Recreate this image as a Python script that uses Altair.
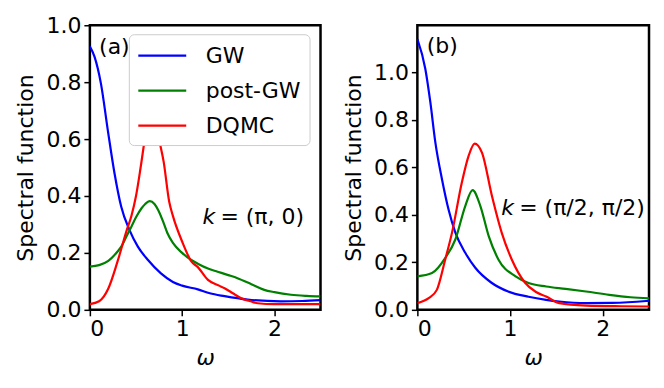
import altair as alt
import pandas as pd

FONT = "DejaVu Sans"
FS = 22
SERIES = ["GW", "post-GW", "DQMC"]
COLORS = ["#0000ff", "#008000", "#ff0000"]

# ---------------- panel (a): k = (pi, 0) ----------------
a_gw_w = [0, 0.05, 0.12, 0.195, 0.267, 0.34, 0.43, 0.52, 0.63, 0.77, 0.9, 1.0, 1.17, 1.3, 1.46, 1.71, 2.07, 2.3, 2.5]
a_gw_A = [0.925, 0.89, 0.795, 0.63, 0.48, 0.362, 0.28, 0.222, 0.175, 0.128, 0.098, 0.085, 0.072, 0.058, 0.048, 0.036, 0.03, 0.031, 0.034]

a_pg_w = [0, 0.1, 0.2, 0.3, 0.34, 0.4, 0.45, 0.5, 0.56, 0.6, 0.65, 0.7, 0.74, 0.8, 0.84, 0.9, 1.0, 1.1, 1.17, 1.28, 1.385, 1.5, 1.6, 1.75, 1.89, 2.0, 2.18, 2.35, 2.5]
a_pg_A = [0.152, 0.157, 0.172, 0.205, 0.222, 0.26, 0.292, 0.325, 0.357, 0.372, 0.382, 0.372, 0.351, 0.305, 0.27, 0.235, 0.2, 0.175, 0.162, 0.145, 0.134, 0.122, 0.111, 0.09, 0.07, 0.062, 0.053, 0.049, 0.047]

a_dq_w = [0, 0.1, 0.2, 0.3, 0.4, 0.45, 0.5, 0.55, 0.6, 0.65, 0.7, 0.75, 0.8, 0.86, 0.9, 1.0, 1.1, 1.17, 1.28, 1.4, 1.46, 1.55, 1.64, 1.75, 1.82, 2.0, 2.5]
a_dq_A = [0.02, 0.03, 0.075, 0.17, 0.28, 0.33, 0.4, 0.5, 0.61, 0.7, 0.69, 0.6, 0.52, 0.38, 0.33, 0.24, 0.17, 0.15, 0.105, 0.085, 0.076, 0.058, 0.041, 0.029, 0.023, 0.02, 0.02]

# ---------------- panel (b): k = (pi/2, pi/2) ----------------
b_gw_w = [0, 0.086, 0.14, 0.194, 0.266, 0.338, 0.41, 0.517, 0.625, 0.8, 0.98, 1.2, 1.39, 1.53, 1.82, 2.1, 2.47, 2.5]
b_gw_A = [1.14, 1.014, 0.874, 0.705, 0.549, 0.42, 0.325, 0.24, 0.177, 0.114, 0.077, 0.055, 0.042, 0.035, 0.028, 0.029, 0.037, 0.038]

b_pg_w = [0, 0.158, 0.3, 0.41, 0.517, 0.596, 0.68, 0.77, 0.876, 1.06, 1.2, 1.39, 1.6, 1.82, 2.07, 2.3, 2.5]
b_pg_A = [0.141, 0.155, 0.218, 0.296, 0.437, 0.504, 0.437, 0.31, 0.211, 0.141, 0.113, 0.098, 0.088, 0.077, 0.063, 0.053, 0.048]

b_dq_w = [0, 0.122, 0.21, 0.3, 0.374, 0.48, 0.553, 0.618, 0.697, 0.805, 0.91, 1.02, 1.16, 1.28, 1.39, 1.53, 1.82, 2.2, 2.5]
b_dq_A = [0.028, 0.049, 0.084, 0.211, 0.325, 0.536, 0.648, 0.70, 0.662, 0.479, 0.325, 0.211, 0.115, 0.075, 0.056, 0.028, 0.018, 0.015, 0.014]

panel_labels = ["(a)", "(b)"]
k_rest = ["= (π, 0)", "= (π/2, π/2)"]


def long_df(series_list):
    rows = []
    for name, ws, As in series_list:
        for w, A in zip(ws, As):
            rows.append({"omega": w, "A": A, "series": name})
    return pd.DataFrame(rows)


df_a = long_df([("GW", a_gw_w, a_gw_A), ("post-GW", a_pg_w, a_pg_A), ("DQMC", a_dq_w, a_dq_A)])
df_b = long_df([("GW", b_gw_w, b_gw_A), ("post-GW", b_pg_w, b_pg_A), ("DQMC", b_dq_w, b_dq_A)])


def panel(df, ymax, label, label_y, k_w, k_y, rest, width, show_legend):
    x = alt.X("omega:Q", title="ω",
              scale=alt.Scale(domain=[0, 2.5], nice=False, zero=False),
              axis=alt.Axis(values=[0, 1, 2], format="d", titleFontStyle="italic"))
    y = alt.Y("A:Q", title="Spectral function",
              scale=alt.Scale(domain=[0, ymax], nice=False),
              axis=alt.Axis(values=[0, 0.2, 0.4, 0.6, 0.8, 1.0], format=".1f"))
    if show_legend:
        leg = alt.Legend(title=None, orient="none", legendX=39, legendY=9,
                         symbolType="M-2,0L2,0", symbolSize=576, symbolStrokeWidth=2.2,
                         symbolOffset=12,
                         labelFontSize=FS, labelFont=FONT, labelOffset=30,
                         rowPadding=10, padding=8, zindex=1,
                         fillColor="white", strokeColor="#cccccc",
                         cornerRadius=5)
    else:
        leg = None
    color = alt.Color("series:N", sort=SERIES,
                      scale=alt.Scale(domain=SERIES, range=COLORS), legend=leg)
    lines = alt.Chart(df).mark_line(strokeWidth=2.2, interpolate="monotone", clip=True).encode(
        x=x, y=y, color=color, order=alt.Order("omega:Q"))
    lab = alt.Chart(pd.DataFrame({"omega": [0.1], "A": [label_y], "t": [label]})).mark_text(
        align="left", baseline="middle", fontSize=FS, font=FONT).encode(
        x="omega:Q", y="A:Q", text="t:N")
    kk = alt.Chart(pd.DataFrame({"omega": [k_w], "A": [k_y], "t": ["k"]})).mark_text(
        align="left", baseline="middle", fontSize=FS, font=FONT, fontStyle="italic").encode(
        x="omega:Q", y="A:Q", text="t:N")
    rr = alt.Chart(pd.DataFrame({"omega": [k_w], "A": [k_y], "t": [rest]})).mark_text(
        align="left", baseline="middle", fontSize=FS, font=FONT, dx=18).encode(
        x="omega:Q", y="A:Q", text="t:N")
    return alt.layer(lines, lab, kk, rr).properties(width=width, height=285)


left = panel(df_a, 1.0, panel_labels[0], 0.923, 1.22, 0.327, k_rest[0], 231, True)
right = panel(df_b, 1.198, panel_labels[1], 1.11, 0.905, 0.43, k_rest[1], 232, False)

chart = alt.hconcat(left, right, spacing=18).resolve_scale(color="independent").properties(
    padding={"left": 5, "top": 4, "right": 5, "bottom": 5}
).configure_view(
    stroke="black", strokeWidth=2.5
).configure_axis(
    domain=False, grid=False,
    labelFont=FONT, titleFont=FONT, labelFontSize=FS, titleFontSize=FS,
    titleFontWeight="normal", labelColor="black", titleColor="black",
    tickColor="black", tickSize=6, tickWidth=1.5, labelPadding=3
).configure_axisY(
    titlePadding=8
).configure_axisX(
    titlePadding=8
).configure_legend(zindex=1)

chart.save("out.html", embed_options={"renderer": "svg", "actions": False})
